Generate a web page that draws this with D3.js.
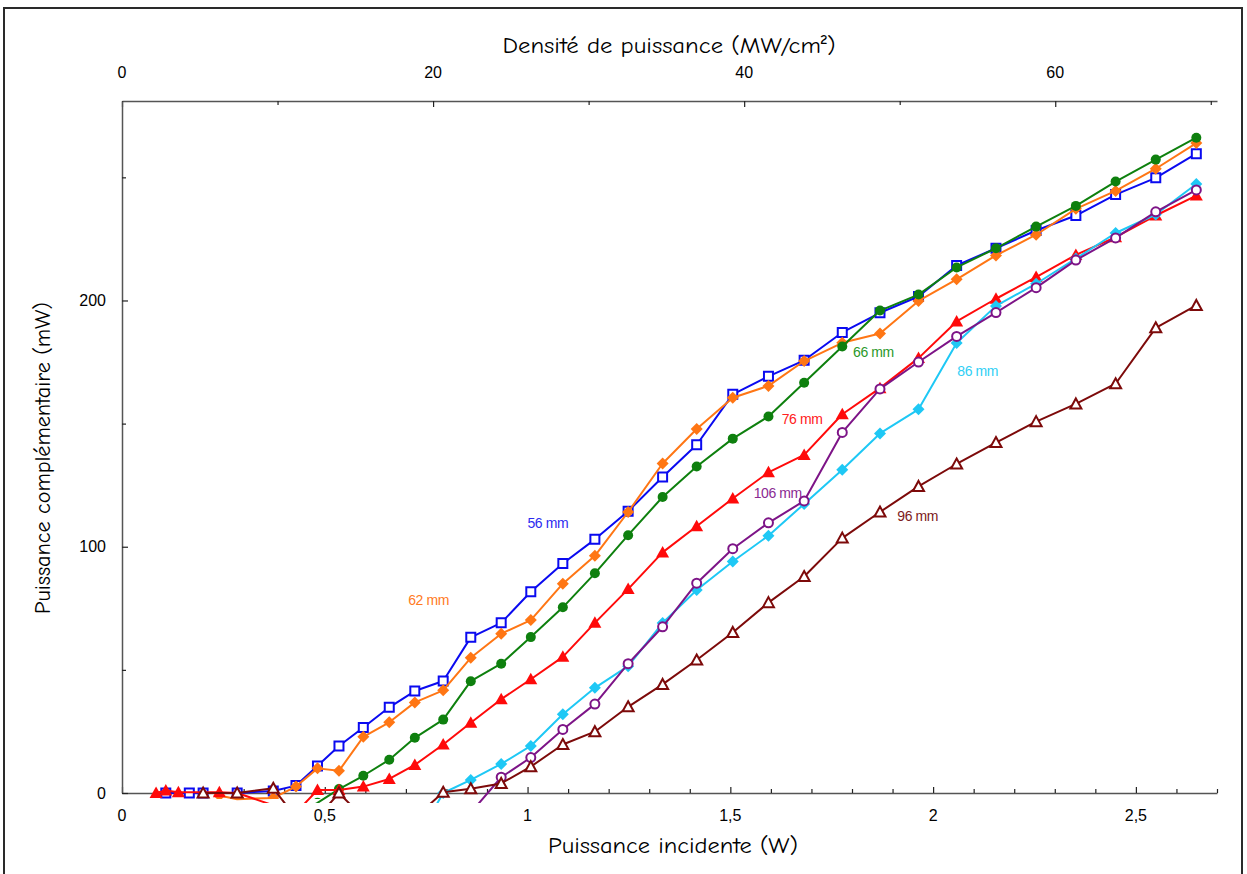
<!DOCTYPE html>
<html>
<head>
<meta charset="utf-8">
<script src="https://cdn.jsdelivr.net/npm/d3@7"></script>
<style>
  html, body { margin: 0; padding: 0; background: #fff; }
  svg { display: block; }
</style>
</head>
<body>
<svg id="chart" width="1247" height="874"></svg>
<script>
// ---------------- DATA ----------------
const power = [0.084, 0.108, 0.139, 0.166, 0.2, 0.24, 0.284, 0.373, 0.429, 0.482,
  0.535, 0.595, 0.659, 0.722, 0.792, 0.86, 0.935, 1.008, 1.087, 1.166,
  1.248, 1.333, 1.417, 1.506, 1.594, 1.682, 1.776, 1.869, 1.964, 2.058,
  2.155, 2.254, 2.352, 2.450, 2.549, 2.649];

const n = null;
const s56 = [n, 0, n, 0, 0, n, 0, 0.8, 3.0, 11.0,
  19.1, 26.6, 34.8, 41.4, 45.5, 63.2, 69.1, 81.7, 93.2, 103.0,
  114.4, 128.3, 141.4, 161.9, 169.2, 175.7, 187.0, 195.0, 201.6, 214.2,
  221.2, 228.4, 234.5, 243.0, 249.8, 259.6];
const s62 = [n, n, n, n, n, -1, -2.5, -2, 2.6, 10.0,
  9.0, 22.8, 28.7, 36.8, 41.7, 54.9, 64.7, 70.2, 85.0, 96.3,
  114.1, 133.8, 147.8, 160.5, 165.3, 175.4, 182.8, 186.6, 199.8, 208.6,
  218.3, 226.7, 237.2, 244.5, 253.5, 263.9];
const s66 = [n, n, n, n, n, n, n, n, -9, -4,
  1.6, 7.0, 13.5, 22.4, 29.8, 45.4, 52.5, 63.3, 75.4, 89.2,
  104.7, 120.2, 132.6, 143.9, 152.9, 166.6, 181.3, 195.9, 202.4, 213.4,
  221.2, 230.0, 238.4, 248.3, 257.2, 266.1];
const s76 = [0, 1.0, 0.3, n, n, 0.3, 0, -5, -8, 1.2,
  1.2, 2.6, 5.7, 11.4, 19.7, 28.5, 38.1, 46.2, 55.3, 69.1,
  82.8, 97.7, 108.3, 119.6, 130.2, 137.3, 153.8, 164.4, 176.6, 191.5,
  200.7, 209.5, 218.5, 225.7, 234.5, 242.6];
const s86 = [n, n, n, n, n, n, n, n, n, n,
  n, n, n, -20, 0, 5.3, 11.8, 19.1, 32.0, 42.7,
  51.5, 69.0, 82.4, 94.0, 104.5, 117.4, 131.3, 146.0, 155.8, 182.7,
  197.8, 206.8, 217.0, 227.4, 234.9, 247.3];
const s106 = [n, n, n, n, n, n, n, n, n, n,
  n, n, n, n, -20, -8, 6.4, 14.4, 25.8, 36.1,
  52.5, 67.5, 85.2, 99.2, 109.7, 118.6, 146.4, 164.1, 175.0, 185.4,
  195.1, 205.2, 216.4, 225.4, 236.0, 244.9];
const s96 = [n, n, n, n, 0, n, 0, 1.9, -10, -10,
  0, -10, -12, -10, 0.3, 1.7, 3.9, 10.7, 19.7, 24.9,
  35.0, 44.1, 54.0, 65.2, 77.3, 87.9, 103.5, 114.1, 124.5, 133.6,
  142.3, 150.8, 158.0, 166.2, 188.9, 198.0];

const seriesNames = ["56 mm", "62 mm", "66 mm", "76 mm", "86 mm", "106 mm", "96 mm"];
const seriesValues = [s56, s62, s66, s76, s86, s106, s96];
// label anchor positions in data units [power (W), value (mW)]
const labelPower = [1.05, 0.756, 1.853, 1.677, 2.11, 1.617, 1.962];
const labelValue = [109.5, 78.3, 179.0, 151.7, 171.2, 121.6, 112.5];

const xTickLabels = [0, 0.5, 1, 1.5, 2, 2.5];
const yTickLabels = [0, 100, 200];
const topTickLabels = [0, 20, 40, 60];

// ---------------- STYLE ----------------
const colors = ["#0a0af0", "#ff7614", "#0e800e", "#ff0a0a", "#1ec8f5", "#7d1487", "#7d0a0a"];
const labelColors = ["#2b2bf0", "#ff7a1e", "#2a982a", "#ff2020", "#30cff5", "#8a2a92", "#7d1a1a"];
const markers = ["squareOpen", "diamond", "circle", "triangle", "diamond", "circleOpen", "triangleOpen"];

const svg = d3.select("#chart");
const pLeft = 122, pRight = 1217, pTop = 101, pBottom = 793;

const x = d3.scaleLinear().domain([0, 2.7]).range([pLeft, pRight]);
const y = d3.scaleLinear().domain([0, 281]).range([pBottom, pTop]);
const xTop = d3.scaleLinear().domain([0, 70.4]).range([pLeft, pRight]);

const loc = d3.formatLocale({decimal: ",", thousands: " ", grouping: [3], currency: ["", "€"]});
const fmt = loc.format("~g");

// outer frame
svg.append("rect").attr("x", 4).attr("y", 8).attr("width", 1238).attr("height", 880)
  .attr("fill", "none").attr("stroke", "#2a2a2a").attr("stroke-width", 2);

// clips for data (lines slightly below the axis, markers at the axis)
const defs = svg.append("defs");
defs.append("clipPath").attr("id", "clipLine")
  .append("rect").attr("x", pLeft).attr("y", pTop).attr("width", pRight - pLeft).attr("height", 803 - pTop);
defs.append("clipPath").attr("id", "clipMark")
  .append("rect").attr("x", pLeft - 10).attr("y", pTop - 10).attr("width", pRight - pLeft + 20).attr("height", 799 - pTop + 10);

const axisColor = "#555";
const tickFont = "'Liberation Sans', Arial, sans-serif";

// bottom axis
const gB = svg.append("g").attr("transform", `translate(0,${pBottom})`);
gB.call(d3.axisBottom(x).tickValues(d3.range(0, 2.7001, 0.1)).tickSize(0).tickFormat(""));
gB.select(".domain").attr("stroke", axisColor).attr("stroke-width", 1.5);
gB.selectAll(".tick line").remove();
gB.selectAll(".tick").append("line").attr("y1", 0)
  .attr("y2", d => (Math.abs(d * 2 - Math.round(d * 2)) < 1e-6) ? -6 : -4)
  .attr("stroke", "#222").attr("stroke-width", 1.2);
svg.append("g").selectAll("text").data(xTickLabels).join("text")
  .attr("x", d => x(d)).attr("y", 821).attr("text-anchor", "middle")
  .attr("font-family", tickFont).attr("font-size", 16).attr("fill", "#000")
  .text(d => fmt(d));

// top axis
const gT = svg.append("g").attr("transform", `translate(0,${pTop})`);
gT.call(d3.axisTop(xTop).tickValues(d3.range(0, 71, 10)).tickSize(0).tickFormat(""));
gT.select(".domain").attr("stroke", axisColor).attr("stroke-width", 1.5);
gT.selectAll(".tick line").remove();
gT.selectAll(".tick").append("line").attr("y1", 0)
  .attr("y2", d => (d % 20 === 0) ? 6 : 4)
  .attr("stroke", "#222").attr("stroke-width", 1.2);
svg.append("g").selectAll("text").data(topTickLabels).join("text")
  .attr("x", d => xTop(d)).attr("y", 78).attr("text-anchor", "middle")
  .attr("font-family", tickFont).attr("font-size", 16).attr("fill", "#000")
  .text(d => d);

// left axis
const gL = svg.append("g").attr("transform", `translate(${pLeft},0)`);
gL.call(d3.axisLeft(y).tickValues([0, 50, 100, 150, 200, 250]).tickSize(0).tickFormat(""));
gL.select(".domain").attr("stroke", axisColor).attr("stroke-width", 1.5);
gL.selectAll(".tick line").remove();
gL.selectAll(".tick").append("line").attr("x1", 0)
  .attr("x2", d => (d % 100 === 0) ? 6 : 4)
  .attr("stroke", "#222").attr("stroke-width", 1.2);
svg.append("g").selectAll("text").data(yTickLabels).join("text")
  .attr("x", 106).attr("y", d => y(d)).attr("dy", "0.36em").attr("text-anchor", "end")
  .attr("font-family", tickFont).attr("font-size", 16).attr("fill", "#000")
  .text(d => d);

// axis titles
const titleFont = "'Comic Sans MS', 'Comic Neue', 'DejaVu Sans', sans-serif";
svg.append("text").attr("x", 669).attr("y", 53).attr("text-anchor", "middle")
  .attr("font-family", titleFont).attr("font-size", 22).attr("fill", "#000")
  .attr("textLength", 333).attr("lengthAdjust", "spacingAndGlyphs")
  .text("Densité de puissance (MW/cm²)");
svg.append("text").attr("x", 673).attr("y", 853).attr("text-anchor", "middle")
  .attr("font-family", titleFont).attr("font-size", 22).attr("fill", "#000")
  .attr("textLength", 250).attr("lengthAdjust", "spacingAndGlyphs")
  .text("Puissance incidente (W)");
svg.append("text").attr("transform", "translate(50,458) rotate(-90)").attr("text-anchor", "middle")
  .attr("font-family", titleFont).attr("font-size", 22).attr("fill", "#000")
  .attr("textLength", 312).attr("lengthAdjust", "spacingAndGlyphs")
  .text("Puissance complémentaire (mW)");

// ---------------- SERIES ----------------
const line = d3.line().x(d => x(d[0])).y(d => y(d[1]));

function markerPath(type) {
  switch (type) {
    case "squareOpen": return "M-4.5,-4.5H4.5V4.5H-4.5Z";
    case "diamond": return "M0,-6L6,0L0,6L-6,0Z";
    case "triangle": return "M0,-6.5L6.5,5L-6.5,5Z";
    case "triangleOpen": return "M0,-5.5L5.5,4.5L-5.5,4.5Z";
    default: return null;
  }
}

seriesValues.forEach((vals, i) => {
  const pts = power.map((p, j) => [p, vals[j]]).filter(d => d[1] !== null);
  const g = svg.append("g");
  g.append("g").attr("clip-path", "url(#clipLine)")
    .append("path").datum(pts).attr("d", line)
    .attr("fill", "none").attr("stroke", colors[i]).attr("stroke-width", 2)
    .attr("stroke-linejoin", "round");
  const type = markers[i];
  const m = g.append("g").attr("clip-path", "url(#clipMark)")
    .selectAll(".m").data(pts).join(type.startsWith("circle") ? "circle" : "path")
    .attr("transform", d => `translate(${x(d[0])},${y(d[1])})`);
  if (type === "circle") {
    m.attr("r", 5).attr("fill", colors[i]);
  } else if (type === "circleOpen") {
    m.attr("r", 4.5).attr("fill", "#fff").attr("stroke", colors[i]).attr("stroke-width", 2);
  } else if (type.endsWith("Open")) {
    m.attr("d", markerPath(type)).attr("fill", "#fff").attr("stroke", colors[i]).attr("stroke-width", 2);
  } else {
    m.attr("d", markerPath(type)).attr("fill", colors[i]);
  }
});

// series labels
svg.append("g").selectAll("text").data(seriesNames).join("text")
  .attr("x", (d, i) => x(labelPower[i])).attr("y", (d, i) => y(labelValue[i]))
  .attr("dy", "0.35em").attr("text-anchor", "middle")
  .attr("font-family", "'Liberation Sans', Arial, sans-serif").attr("font-size", 14)
  .attr("letter-spacing", -0.4)
  .attr("fill", (d, i) => labelColors[i])
  .text(d => d);
</script>
</body>
</html>
